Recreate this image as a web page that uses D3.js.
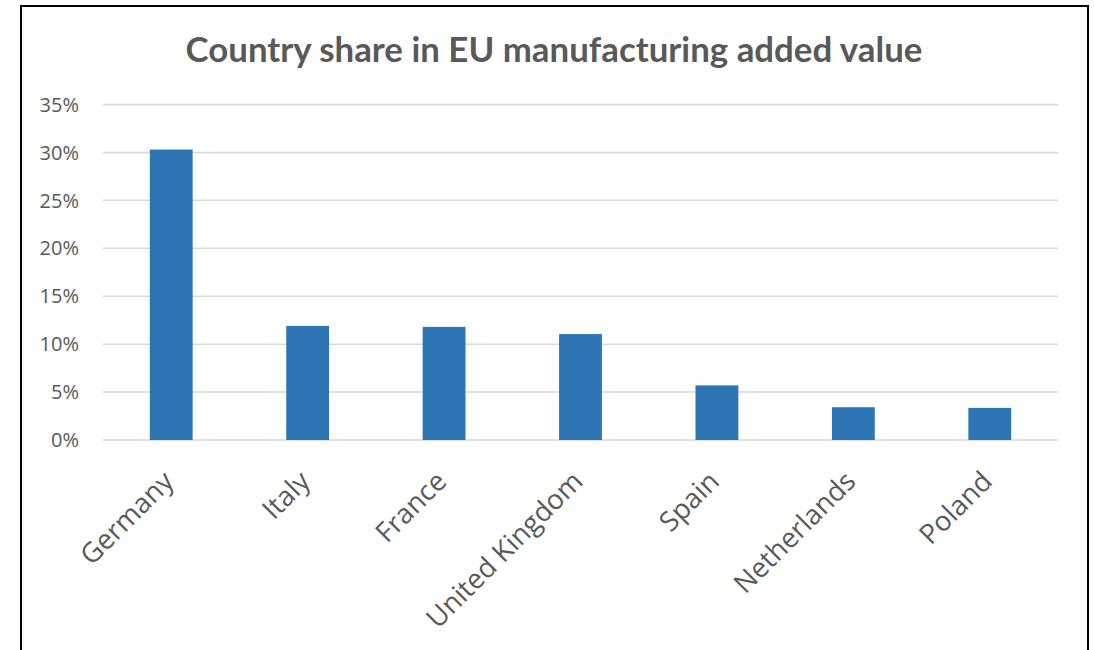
<!DOCTYPE html>
<html>
<head>
<meta charset="utf-8">
<script src="https://cdn.jsdelivr.net/npm/d3@7"></script>
<style>
  body { margin: 0; background: #fff; }
</style>
</head>
<body>
<div id="app"></div>
<script>
const title = 'Country share in EU manufacturing added value';
const countries = ['Germany', 'Italy', 'France', 'United Kingdom', 'Spain', 'Netherlands', 'Poland'];
const shares = [30.3, 11.9, 11.8, 11.05, 5.7, 3.42, 3.35];
const yTicks = [0, 5, 10, 15, 20, 25, 30, 35];

const width = 1094;
const height = 650;
const plot = { left: 103, right: 1058, top: 104.5, bottom: 440 };
const labelFont = "'Open Sans', sans-serif";

const svg = d3.select('#app')
  .append('svg')
  .attr('width', width)
  .attr('height', height);

// chart frame (bottom edge runs off the picture)
svg.append('rect')
  .attr('x', 21)
  .attr('y', 6)
  .attr('width', 1067)
  .attr('height', 700)
  .attr('fill', '#fff')
  .attr('stroke', '#000')
  .attr('stroke-width', 2);

const x = d3.scaleBand()
  .domain(countries)
  .range([plot.left, plot.right])
  .paddingInner(0.686)
  .paddingOuter(0.343);

const y = d3.scaleLinear()
  .domain([0, 35])
  .range([plot.bottom, plot.top]);

// gridlines
svg.append('g')
  .selectAll('line')
  .data(yTicks)
  .enter()
  .append('line')
  .attr('x1', plot.left)
  .attr('x2', plot.right)
  .attr('y1', (d) => y(d))
  .attr('y2', (d) => y(d))
  .attr('stroke', '#d9d9d9')
  .attr('stroke-width', 1.5);

// y labels
svg.append('g')
  .selectAll('text')
  .data(yTicks)
  .enter()
  .append('text')
  .attr('x', 79)
  .attr('y', (d) => y(d))
  .attr('dy', '0.36em')
  .attr('text-anchor', 'end')
  .attr('font-family', labelFont)
  .attr('font-size', 20)
  .attr('fill', '#595959')
  .text((d) => d + '%');

// bars
svg.append('g')
  .selectAll('rect')
  .data(countries)
  .enter()
  .append('rect')
  .attr('x', (d) => x(d))
  .attr('width', x.bandwidth())
  .attr('y', (d, i) => y(shares[i]))
  .attr('height', (d, i) => y(0) - y(shares[i]))
  .attr('fill', '#2e75b6');

// x labels, rotated
svg.append('g')
  .selectAll('text')
  .data(countries)
  .enter()
  .append('text')
  .attr('transform', (d) => `translate(${x(d) + x.bandwidth() / 2 + 4},483) rotate(-45)`)
  .attr('text-anchor', 'end')
  .attr('font-family', labelFont)
  .attr('font-size', 27.5)
  .attr('fill', '#595959')
  .text((d) => d);

// title, fitted to the reference width
const t = svg.append('text')
  .attr('x', 554)
  .attr('y', 62)
  .attr('text-anchor', 'middle')
  .attr('font-family', 'Lato, sans-serif')
  .attr('font-weight', 700)
  .attr('font-size', 34)
  .attr('fill', '#595959')
  .text(title);
const tw = t.node().getComputedTextLength();
t.attr('font-size', 34 * 737 / tw);
</script>
</body>
</html>
